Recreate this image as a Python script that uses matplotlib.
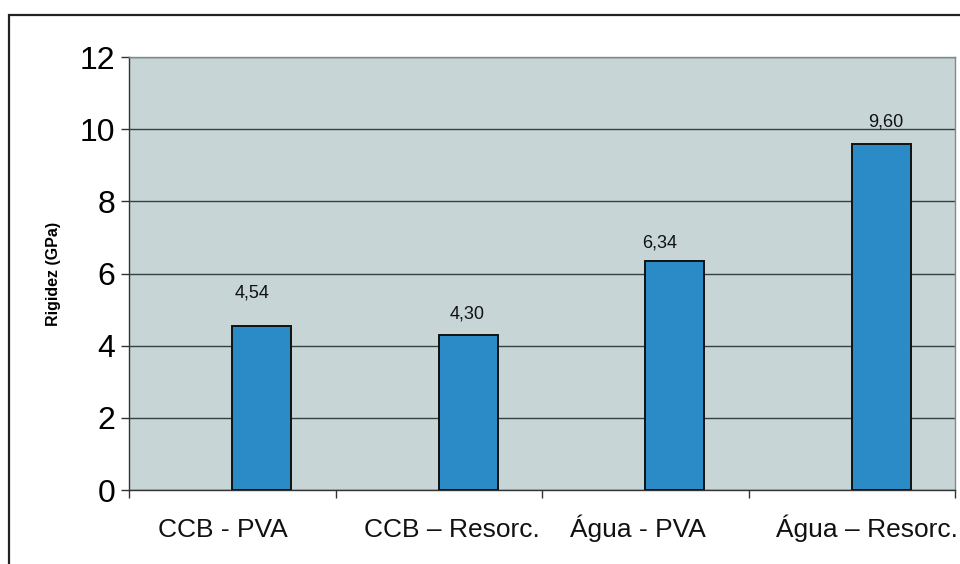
import matplotlib
matplotlib.use("Agg")
import matplotlib.pyplot as plt
from matplotlib.patches import Rectangle
from matplotlib.transforms import blended_transform_factory, offset_copy
import numpy as np

plt.rcParams['font.family'] = ['Liberation Sans', 'DejaVu Sans']

categories = ["CCB - PVA", "CCB – Resorc.", "Água - PVA", "Água – Resorc."]
rigidez = [4.54, 4.30, 6.34, 9.60]
value_labels = ["4,54", "4,30", "6,34", "9,60"]
y_ticks = [0, 2, 4, 6, 8, 10, 12]

# label placement tweaks (pixels)
value_dx = [-10, -1, -15, 4]
value_dy = [29, 16, 14, 17]
cat_dx = [-9, 13, -7, 15]

DPI = 100
fig = plt.figure(figsize=(9.6, 5.64), dpi=DPI)
fig.patch.set_facecolor("white")

# outer chart frame
fig.add_artist(Rectangle((9 / 960, -0.05), 1.2, 1 - 15 / 564 + 0.05,
                         transform=fig.transFigure, fill=False,
                         edgecolor="#222222", linewidth=1.6))

ax = fig.add_axes([129 / 960, 1 - 490 / 564, (955 - 129) / 960, (490 - 57) / 564])
ax.set_facecolor("#c7d5d7")

n = len(categories)
bar_w = 1 / 3.5
x = np.arange(n)
# bars sit in the right slot of each category group
ax.bar(x, rigidez, width=bar_w, align="edge", color="#2b8bc6",
       edgecolor="#111111", linewidth=1.4, zorder=3)

px2pt = 72 / DPI
for xi, v, lab, dx, dy in zip(x, rigidez, value_labels, value_dx, value_dy):
    ax.annotate(lab, (xi + bar_w / 2, v), xytext=(dx * px2pt, dy * px2pt),
                textcoords="offset points", ha="center", va="baseline",
                fontsize=13, color="#111111")

ax.set_xlim(-0.5, n - 0.5)
ax.set_ylim(0, 12)
ax.set_yticks(y_ticks)
ax.set_yticklabels([str(t) for t in y_ticks], fontsize=23)
ax.yaxis.grid(True, color="#34423f", linewidth=1.0, zorder=1)
ax.set_axisbelow(True)

# boundaries as tick marks, names centred under each category
ax.set_xticks(np.arange(-0.5, n, 1.0))
ax.set_xticklabels([])
ax.tick_params(axis="x", which="major", length=6, width=1, color="#333333")
ax.tick_params(axis="y", length=6, width=1, color="#333333", pad=4)

trans = blended_transform_factory(ax.transData, ax.transAxes)
for xi, name, dx in zip(x, categories, cat_dx):
    t = offset_copy(trans, fig=fig, x=dx * px2pt, y=-47 * px2pt, units="points")
    ax.text(xi, 0, name, transform=t, ha="center", va="baseline",
            fontsize=19, color="#111111")

for side in ["top", "right"]:
    ax.spines[side].set_color("#7f8c8c")
    ax.spines[side].set_linewidth(1.0)
for side in ["left", "bottom"]:
    ax.spines[side].set_color("#333333")
    ax.spines[side].set_linewidth(1.0)

ax.set_ylabel("Rigidez (GPa)", fontsize=11.5, fontweight="bold", labelpad=13)

fig.savefig("out.png", dpi=DPI)
